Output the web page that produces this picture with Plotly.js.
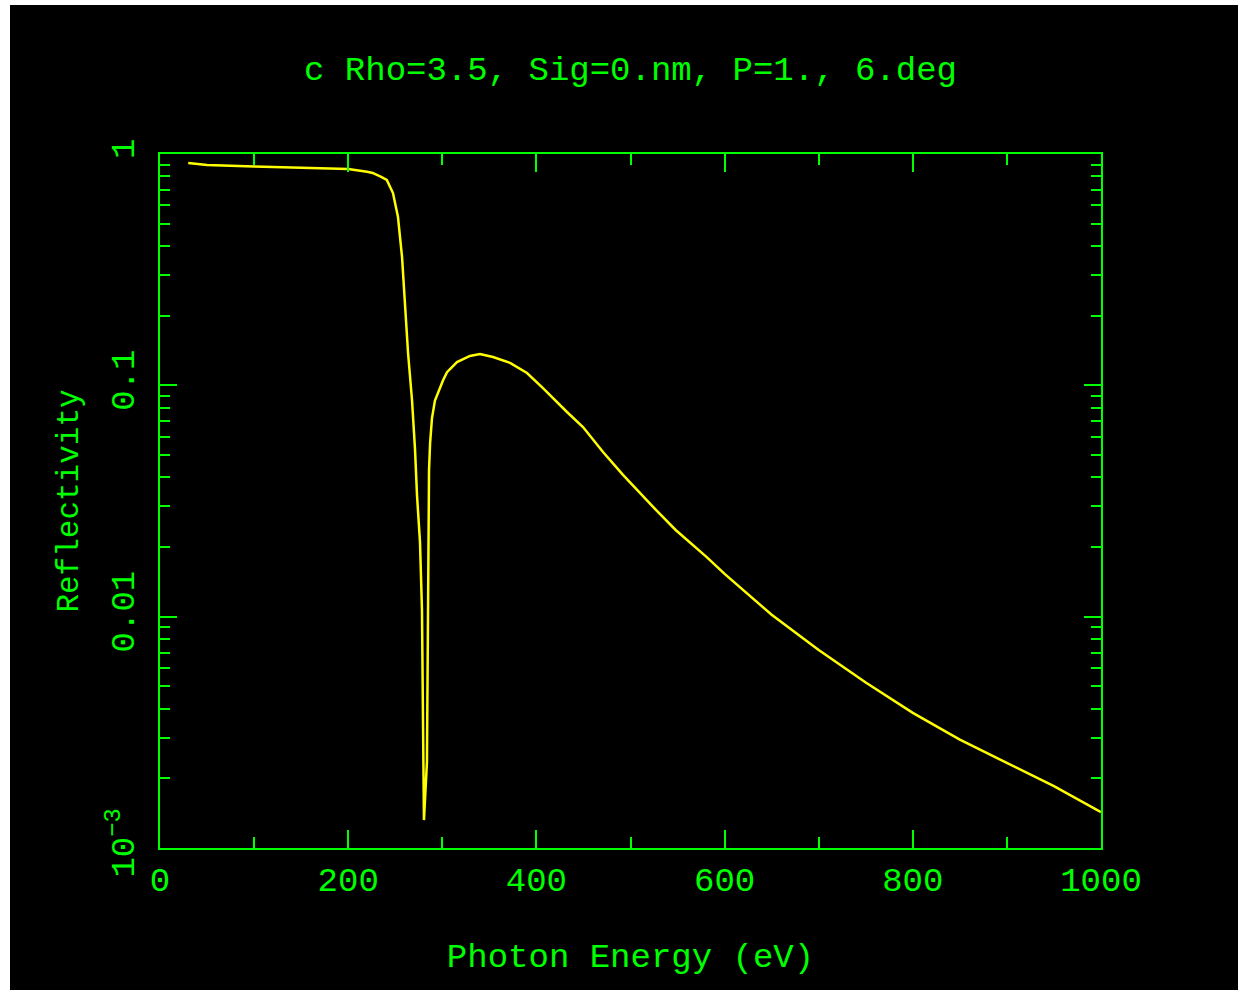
<!DOCTYPE html>
<html>
<head>
<meta charset="utf-8">
<script src="https://cdn.plot.ly/plotly-3.0.1.min.js"></script>
<style>
  html, body { margin: 0; padding: 0; background: #ffffff; width: 1238px; height: 994px; overflow: hidden; }
  #chart { position: absolute; left: 10px; top: 5px; width: 1228px; height: 985px; background: #000; }
</style>
</head>
<body>
<div id="chart"></div>
<script>
// Photon energy (eV)
const energy = [30, 50, 100, 150, 200, 220, 226, 235, 241, 247.6, 252.9, 257.2, 260.4, 263.6, 267.8, 271, 273.1, 276.3, 278.4, 279.5, 280.5,
  283.7, 284.8, 285.9, 287, 289, 292.2, 297.6, 300.7, 305, 315.6, 329.4, 340, 353.9, 372, 390, 407, 432.5, 449.5, 470.8, 492, 524, 548, 581,
  600, 650, 700, 750, 800, 850, 900, 950, 1000];
// Reflectivity
const reflectivity = [0.914, 0.896, 0.883, 0.874, 0.861, 0.838, 0.828, 0.796, 0.772, 0.678, 0.534, 0.359, 0.218, 0.138, 0.0864, 0.053, 0.0336, 0.021, 0.0107, 0.0030, 0.00132,
  0.00236, 0.0118, 0.043, 0.056, 0.072, 0.086, 0.098, 0.105, 0.114, 0.126, 0.134, 0.1365, 0.1325, 0.125, 0.113, 0.0973, 0.0767, 0.066, 0.0515, 0.041, 0.0298, 0.0237, 0.0181,
  0.0153, 0.0102, 0.00717, 0.00519, 0.00384, 0.00294, 0.00233, 0.00185, 0.00143];

const titleText = "c Rho=3.5, Sig=0.nm, P=1., 6.deg";
const xTitle = "Photon Energy (eV)";
const yTitle = "Reflectivity";
const xTickVals = [0, 200, 400, 600, 800, 1000];
const xTickText = ["0", "200", "400", "600", "800", "1000"];
const yTickVals = [0.001, 0.01, 0.1, 1];
const yTickText = ["10<sup>\u22123</sup>", "0.01", "0.1", "1"];

const GREEN = "#00ff00";
const YELLOW = "#ffff00";
const FONT = "Liberation Mono, Courier New, monospace";

// minor tick positions on log axis (2..9 per decade)
const yMinor = [];
for (let d = -3; d < 0; d++) for (let m = 2; m <= 9; m++) yMinor.push(m * Math.pow(10, d));

const trace = {
  x: energy, y: reflectivity, type: "scatter", mode: "lines",
  line: { color: YELLOW, width: 2.5 }, hoverinfo: "skip"
};

const layout = {
  width: 1228, height: 985,
  paper_bgcolor: "#000", plot_bgcolor: "#000",
  margin: { l: 150, r: 137, t: 149, b: 142 },
  showlegend: false,
  title: {
    text: titleText, x: 0.5, xref: "paper", xanchor: "center",
    y: 0.936, yref: "container", yanchor: "middle",
    font: { family: FONT, size: 34, color: GREEN }
  },
  xaxis: {
    range: [0, 1000], showgrid: false, zeroline: false,
    showline: true, linecolor: GREEN, linewidth: 2, mirror: "ticks",
    ticks: "inside", ticklen: 18, tickwidth: 2, tickcolor: GREEN,
    tickmode: "array", tickvals: xTickVals, ticktext: xTickText,
    minor: { dtick: 100, tick0: 0, ticks: "inside", ticklen: 11, tickwidth: 2, tickcolor: GREEN, showgrid: false },
    tickfont: { family: FONT, size: 34, color: GREEN },
    ticklabelstandoff: 0,
    title: { text: xTitle, standoff: 43, font: { family: FONT, size: 34, color: GREEN } }
  },
  yaxis: {
    type: "log", range: [-3, 0], showgrid: false, zeroline: false,
    showline: true, linecolor: GREEN, linewidth: 2, mirror: "ticks",
    ticks: "inside", ticklen: 17, tickwidth: 2, tickcolor: GREEN,
    tickmode: "array", tickvals: yTickVals, ticktext: yTickText,
    tickangle: -90,
    minor: { tickmode: "array", tickvals: yMinor, ticks: "inside", ticklen: 10, tickwidth: 2, tickcolor: GREEN, showgrid: false },
    tickfont: { family: FONT, size: 34, color: GREEN },
    ticklabelstandoff: 10,
    title: { text: yTitle, standoff: 12, font: { family: FONT, size: 31, color: GREEN } }
  }
};

Plotly.newPlot("chart", [trace], layout, { displayModeBar: false, staticPlot: true });
</script>
</body>
</html>
